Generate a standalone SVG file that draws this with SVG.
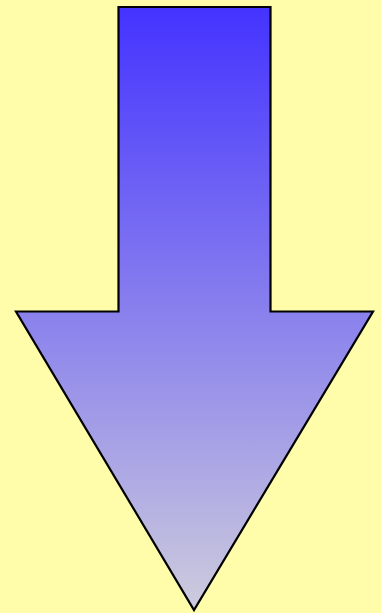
<svg xmlns="http://www.w3.org/2000/svg" width="381" height="613" viewBox="0 0 381 613">
<defs>
<linearGradient id="g" x1="0" y1="7" x2="0" y2="611" gradientUnits="userSpaceOnUse">
<stop offset="0" stop-color="#4433FF"/>
<stop offset="1" stop-color="#CDCCDC"/>
</linearGradient>
<style>
.arrow{fill:url(#g);stroke:#000;stroke-width:2.2;stroke-linejoin:miter;stroke-miterlimit:10}
</style>
</defs>
<rect width="381" height="613" fill="#FFFDAA"/>
<g id="arrow">
<path class="arrow" d="M118.5,7 L270.5,7 L270.5,311.5 L373,311.5 L194,610 L16,311.5 L118.5,311.5 Z"/>
</g>
</svg>
